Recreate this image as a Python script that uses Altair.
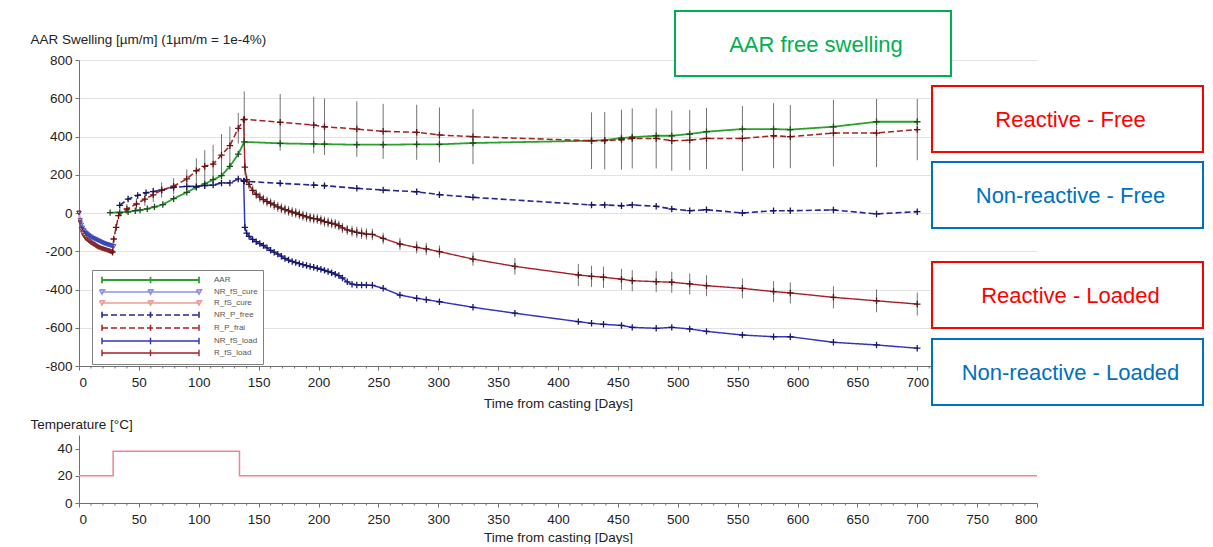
import altair as alt
import pandas as pd

FONT = "Liberation Sans"

# ---------------- data ----------------
SERIES = ["AAR", "NR_fS_cure", "R_fS_cure", "NR_P_free", "R_P_frai", "NR_fS_load", "R_fS_load"]
LINE_COLORS = ["#2ca02c", "#9090e8", "#f09a9a", "#26269a", "#a52222", "#3333c2", "#a81e2a"]
MARK_COLORS = ["#1d4f1d", "#3344b8", "#7a2222", "#15155a", "#6a1212", "#18186e", "#5a1818"]
DASHES = [[1, 0], [1, 0], [1, 0], [6, 3], [6, 3], [1, 0], [1, 0]]
WIDTHS = [1.8, 1.4, 1.4, 1.6, 1.6, 1.8, 1.8]

AAR_DAYS = [26, 34, 41, 47, 51, 57, 63, 70, 79, 90, 98, 105, 112, 119, 126, 133, 138,
            168, 196, 205, 232, 254, 282, 301, 329, 428, 439, 453, 462, 482, 495, 510,
            524, 554, 580, 594, 630, 666, 700]
AAR_VALS = [2, 3, 6, 12, 15, 22, 32, 44, 75, 108, 134, 152, 174, 195, 244, 308, 372,
            364, 361, 360, 357, 357, 359, 359, 366, 378, 381, 392, 396, 404, 404, 413,
            425, 439, 439, 436, 451, 477, 477]

NR_CURE_DAYS = list(range(0, 30))
NR_CURE_VALS = [0, -38, -62, -78, -90, -99, -106, -112, -117, -122, -126, -130, -133, -136,
                -139, -142, -145, -148, -151, -154, -157, -160, -162, -164, -166, -168,
                -170, -172, -173, -175]
R_CURE_DAYS = list(range(0, 29))
R_CURE_VALS = [0, -50, -85, -105, -118, -128, -136, -141, -146, -151, -156, -160, -164,
               -168, -172, -176, -180, -182, -185, -187, -189, -191, -193, -195, -197,
               -199, -202, -205, -208]

NR_FREE_DAYS = [34, 41, 49, 56, 62, 69, 79, 90, 98, 105, 112, 119, 126, 133, 138,
                168, 196, 205, 232, 254, 282, 301, 329, 428, 439, 453, 462, 482, 495,
                510, 524, 554, 580, 594, 630, 666, 700]
NR_FREE_VALS = [40, 73, 92, 106, 112, 120, 134, 139, 139, 143, 146, 157, 157, 178, 166,
                155, 146, 143, 129, 120, 111, 96, 82, 42, 42, 38, 42, 35, 21,
                12, 17, 0, 12, 12, 16, -5, 7]

R_FREE_DAYS = [28, 29, 31, 33, 40, 48, 55, 62, 69, 79, 90, 98, 105, 112, 119, 126, 133,
               138, 168, 196, 205, 232, 254, 282, 301, 329, 428, 439, 453, 462, 482, 495,
               510, 524, 554, 580, 594, 630, 666, 700]
R_FREE_VALS = [-205, -136, -75, -14, 21, 47, 73, 95, 120, 140, 178, 221, 244, 256, 303,
               352, 443, 490, 474, 460, 451, 439, 427, 422, 408, 399, 378, 378, 383, 390,
               390, 378, 381, 390, 390, 404, 399, 418, 418, 436]
R_FREE_ERR = [0, 12, 15, 18, 25, 30, 35, 38, 40, 42, 50, 65, 85, 100, 110, 100, 80,
              145, 148, 148, 148, 145, 144, 144, 144, 144, 148, 150, 157, 157, 157, 157,
              157, 160, 170, 170, 165, 174, 178, 160]

LOAD_DAYS = [137.5, 138.5, 140, 142, 145, 148, 151, 154, 157, 160, 163, 166, 169, 172,
             175, 178, 181, 184, 187, 190, 193, 196, 199, 202, 205, 208, 211, 214, 217,
             220, 224, 228, 232, 236, 240, 245, 254, 268, 282, 290, 301, 329, 364, 417,
             428, 438, 453, 462, 482, 495, 510, 524, 554, 580, 594, 630, 666, 700]
R_LOAD_VALS = [488, 240, 175, 150, 118, 98, 83, 70, 60, 51, 42, 32, 25, 18,
               11, 5, 0, -7, -14, -20, -25, -29, -31, -38, -45, -49, -54, -58, -66,
               -78, -88, -95, -101, -106, -110, -112, -133, -162, -180, -188, -202, -241,
               -279, -324, -331, -336, -346, -354, -359, -362, -371, -380, -394, -411,
               -418, -441, -459, -476]
R_LOAD_ERR = [0, 40, 26, 26, 26, 26, 26, 26, 26, 26, 26, 26, 26, 26,
              26, 26, 26, 26, 26, 26, 26, 26, 26, 26, 26, 26, 26, 26, 26,
              26, 26, 28, 30, 30, 30, 30, 30, 32, 32, 32, 32, 35, 43, 58,
              55, 55, 55, 55, 55, 55, 55, 55, 52, 55, 55, 58, 60, 60]
NR_LOAD_VALS = [168, -75, -105, -122, -138, -150, -160, -170, -182, -195, -205, -215,
                -226, -238, -246, -253, -259, -265, -270, -275, -280, -284, -289, -294,
                -300, -306, -312, -320, -327, -340, -360, -372, -376, -376, -377, -378,
                -394, -429, -446, -453, -464, -493, -524, -568, -577, -582, -588, -598,
                -603, -598, -606, -619, -638, -647, -647, -676, -690, -707]

T_DAYS = [0, 28.5, 134, 800]
T_VALS = [20, 38, 20, 20]

X_TICKS_TOP = list(range(0, 701, 50))
X_TICKS_BOT = list(range(0, 801, 50))
Y_TICKS = list(range(-800, 801, 200))
MINOR_DAYS = [d for d in range(0, 801, 10) if d % 50]

ANNOT_TEXT = ["AAR free swelling", "Reactive - Free", "Non-reactive - Free",
              "Reactive - Loaded", "Non-reactive - Loaded"]
ANNOT_COLOR = ["#00b050", "#ff0000", "#0070c0", "#ff0000", "#0070c0"]

# ---------------- tables ----------------
rows = []
for name, ds, vs in [("AAR", AAR_DAYS, AAR_VALS),
                     ("NR_fS_cure", NR_CURE_DAYS, NR_CURE_VALS),
                     ("R_fS_cure", R_CURE_DAYS, R_CURE_VALS),
                     ("NR_P_free", NR_FREE_DAYS, NR_FREE_VALS),
                     ("R_P_frai", R_FREE_DAYS, R_FREE_VALS),
                     ("NR_fS_load", LOAD_DAYS, NR_LOAD_VALS),
                     ("R_fS_load", LOAD_DAYS, R_LOAD_VALS)]:
    for i, (d, v) in enumerate(zip(ds, vs)):
        rows.append({"series": name, "day": d, "val": v, "order": i})
df = pd.DataFrame(rows)

erows = []
for name, ds, vs, es in [("R_P_frai", R_FREE_DAYS, R_FREE_VALS, R_FREE_ERR),
                         ("R_fS_load", LOAD_DAYS, R_LOAD_VALS, R_LOAD_ERR)]:
    for d, v, e in zip(ds, vs, es):
        if e > 0:
            erows.append({"series": name, "day": d, "lo": v - e, "hi": v + e})
edf = pd.DataFrame(erows)

tdf = pd.DataFrame({"day": T_DAYS, "temp": T_VALS})
mdf = pd.DataFrame({"day": MINOR_DAYS})

# ---------------- scales / axes ----------------
W, HT, HB = 958, 306, 68
AX = "#707070"
HYPHEN = "replace(datum.label, '\u2212', '-')"
xs = alt.Scale(domain=[0, 800], nice=False, zero=False)
ys = alt.Scale(domain=[-800, 800], nice=False)

x_axis_top = alt.Axis(values=X_TICKS_TOP, format="d", grid=False, tickSize=4, labelPadding=5,
                      title="Time from casting [Days]", titlePadding=8)
y_axis_top = alt.Axis(values=Y_TICKS, format="d", labelExpr=HYPHEN, grid=True, tickSize=4,
                      labelPadding=3,
                      title="AAR Swelling [µm/m] (1µm/m = 1e-4%)", titleAngle=0,
                      titleAlign="left", titleBaseline="middle", titleX=-49, titleY=-21)


def X(field="day"):
    return alt.X(f"{field}:Q", scale=xs, axis=x_axis_top)


def Y(field="val"):
    return alt.Y(f"{field}:Q", scale=ys, axis=y_axis_top)


color_scale = alt.Scale(domain=SERIES, range=LINE_COLORS)
mark_scale = alt.Scale(domain=SERIES, range=MARK_COLORS)
dash_scale = alt.Scale(domain=SERIES, range=DASHES)
width_scale = alt.Scale(domain=SERIES, range=WIDTHS)

U = 24.25
cross_leg = f"M0,0H{U}M0,-0.8V0.8M{U/2},-0.8V0.8M{U},-0.8V0.8"
tri = lambda c: f"M{c-0.6},-0.55L{c+0.6},-0.55L{c},0.5L{c-0.6},-0.55"
tri_leg = f"M0,0H{U}" + tri(0) + tri(U / 2) + tri(U)
shape_scale = alt.Scale(domain=SERIES,
                        range=[cross_leg, tri_leg, tri_leg, cross_leg, cross_leg, cross_leg, cross_leg])

leg = alt.Legend(title=None, orient="none", legendX=13, legendY=210, direction="vertical",
                 fillColor="white", strokeColor="#808080", padding=5, rowPadding=-1,
                 labelFont=FONT, labelFontSize=8, labelColor="#555555",
                 symbolSize=64, symbolStrokeWidth=1.4, labelOffset=107,
                 symbolFillColor="transparent")

# ---------------- top panel ----------------
err = alt.Chart(edf).mark_rule(color="#5a5a5a", strokeWidth=1, opacity=0.85).encode(
    x=X(), y=Y("lo"), y2="hi")

lines = alt.Chart(df).mark_line().encode(
    x=X(), y=Y(),
    color=alt.Color("series:N", scale=color_scale, legend=leg),
    strokeDash=alt.StrokeDash("series:N", scale=dash_scale, legend=leg),
    strokeWidth=alt.StrokeWidth("series:N", scale=width_scale, legend=None),
    detail="series:N", order="order:Q")

cross_path = "M-1,0L1,0M0,-1L0,1"
marks_cross = alt.Chart(df).transform_filter(
    "datum.series != 'NR_fS_cure' && datum.series != 'R_fS_cure'"
).mark_point(shape=cross_path, filled=False, size=42, strokeWidth=1.3, opacity=1).encode(
    x=X(), y=Y(), stroke=alt.Stroke("series:N", scale=mark_scale, legend=None))

marks_tri = alt.Chart(df).transform_filter(
    "datum.series == 'NR_fS_cure' || datum.series == 'R_fS_cure'"
).mark_point(shape="triangle-down", filled=False, size=18, strokeWidth=1, opacity=0.9).encode(
    x=X(), y=Y(), stroke=alt.Stroke("series:N", scale=mark_scale, legend=None))

legend_layer = alt.Chart(df).transform_filter("false").mark_point(filled=False, opacity=1).encode(
    x=X(), y=Y(),
    color=alt.Color("series:N", scale=color_scale, legend=leg),
    strokeDash=alt.StrokeDash("series:N", scale=dash_scale, legend=leg),
    shape=alt.Shape("series:N", scale=shape_scale, legend=leg))

minor_top = alt.Chart(mdf).transform_filter("datum.day < 720").mark_rule(
    color=AX, strokeWidth=1).encode(x=X(), y=alt.value(HT), y2=alt.value(HT + 2.5))

# annotation boxes (pixel positions relative to the plot area)
BOXES = [(596, 872, -49, 16), (853, 1124, 26, 92), (853, 1124, 102, 168),
         (853, 1124, 202, 268), (853, 1124, 279, 345)]
annots = []
one = pd.DataFrame({"k": [0]})
for (x0, x1, y0, y1), txt, col in zip(BOXES, ANNOT_TEXT, ANNOT_COLOR):
    annots.append(alt.Chart(one).mark_rect(fill="white", stroke=col, strokeWidth=2).encode(
        x=alt.value(x0), x2=alt.value(x1), y=alt.value(y0), y2=alt.value(y1)))
    annots.append(alt.Chart(one).mark_text(text=txt, color=col, font=FONT, fontSize=22,
                                           align="center", baseline="middle").encode(
        x=alt.value((x0 + x1) / 2 + 3), y=alt.value((y0 + y1) / 2 + 1)))

top = alt.layer(err, lines, marks_tri, marks_cross, legend_layer, minor_top, *annots).properties(
    width=W, height=HT)

# ---------------- bottom panel ----------------
x_axis_bot = alt.Axis(values=X_TICKS_BOT, format="d", grid=False, tickSize=4, labelPadding=5,
                      title="Time from casting [Days]", titlePadding=5)
y_axis_bot = alt.Axis(values=[0, 20, 40], format="d", grid=False, tickSize=4, labelPadding=3,
                      title="Temperature [°C]", titleAngle=0, titleAlign="left",
                      titleBaseline="middle", titleX=-49, titleY=-11)

temp = alt.Chart(tdf).mark_line(interpolate="step-after", color="#f3838f", strokeWidth=1.5).encode(
    x=alt.X("day:Q", scale=xs, axis=x_axis_bot),
    y=alt.Y("temp:Q", scale=alt.Scale(domain=[0, 50], nice=False), axis=y_axis_bot))

minor_bot = alt.Chart(mdf).mark_rule(color=AX, strokeWidth=1).encode(
    x=alt.X("day:Q", scale=xs, axis=x_axis_bot), y=alt.value(HB), y2=alt.value(HB + 2.5))

bottom = alt.layer(temp, minor_bot).properties(width=W, height=HB)

chart = alt.vconcat(top, bottom, spacing=7).properties(
    padding={"left": 22, "top": 2, "right": 0, "bottom": 0}
).configure_view(stroke=None).configure_axis(
    labelFont=FONT, titleFont=FONT, labelFontSize=13.5, titleFontSize=13.5,
    labelColor="#222222", titleColor="#222222", titleFontWeight="normal",
    domainColor=AX, tickColor=AX, gridColor="#e2e2e2"
)

chart.save("out.html", embed_options={"renderer": "svg", "actions": False})
